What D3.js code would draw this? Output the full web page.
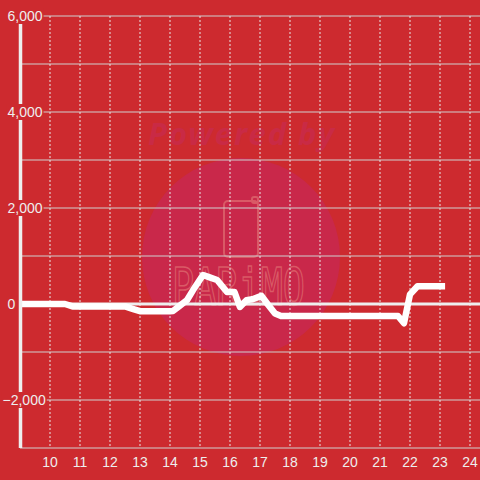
<!DOCTYPE html>
<html>
<head>
<meta charset="utf-8">
<script src="https://cdn.jsdelivr.net/npm/d3@7"></script>
<style>
  body { margin: 0; background: #cd2a2f; }
  svg { display: block; font-family: "Liberation Sans", Arial, sans-serif; }
</style>
</head>
<body>
<div class="chart"></div>
<script>
// hours of day and values
const hours = [9, 10.5, 10.75, 12.5, 12.75, 13, 14, 14.1, 14.3, 14.57, 14.77, 15.1, 15.3, 15.57, 15.9, 16.15, 16.33, 16.55, 16.75, 17.05, 17.25, 17.5, 17.7, 21.6, 21.8, 22.0, 22.25, 23.17];
const values = [0, 0, -50, -50, -100, -150, -150, -146, -50, 83, 290, 604, 560, 500, 250, 250, -60, 80, 100, 170, 0, -200, -250, -250, -400, 200, 370, 370];
const xTicks = [10, 11, 12, 13, 14, 15, 16, 17, 18, 19, 20, 21, 22, 23, 24];
const yTicks = [-2000, 0, 2000, 4000, 6000];
const yGrid = [-3000, -2000, -1000, 0, 1000, 2000, 3000, 4000, 5000, 6000];

const w = 480, h = 480;
const margin = {top: 16, right: 0, bottom: 32, left: 20};

const x = d3.scaleLinear().domain([9, 9 + 460 / 30]).range([margin.left, w]);
const y = d3.scaleLinear().domain([-3000, 6000]).range([h - margin.bottom, margin.top]);

const svg = d3.select(".chart").append("svg")
  .attr("width", w).attr("height", h);

svg.append("rect").attr("width", w).attr("height", h).attr("fill", "#cd2a2f");

// watermark
const wm = svg.append("g");
wm.append("circle").attr("cx", 241).attr("cy", 257).attr("r", 99).attr("fill", "#c9284a");
wm.append("text").attr("x", 241).attr("y", 145).attr("text-anchor", "middle")
  .attr("font-size", 31).attr("font-weight", "bold").attr("font-style", "italic")
  .attr("font-family", "'Noto Sans', sans-serif").attr("textLength", 186)
  .attr("fill", "#c92a45").text("Powered by");
wm.append("rect").attr("x", 224).attr("y", 201).attr("width", 34).attr("height", 56).attr("rx", 4)
  .attr("fill", "none").attr("stroke", "#d95a66").attr("stroke-width", 2);
wm.append("rect").attr("x", 252).attr("y", 197).attr("width", 6).attr("height", 6).attr("rx", 2)
  .attr("fill", "none").attr("stroke", "#d95a66").attr("stroke-width", 2);
wm.append("text").attr("x", 172).attr("y", 305).attr("textLength", 133)
  .attr("lengthAdjust", "spacingAndGlyphs")
  .attr("font-size", 52).attr("font-family", "'DejaVu Sans Mono', monospace")
  .attr("fill", "none").attr("stroke", "#d95a66").attr("stroke-width", 1.5)
  .text("PARiMO");

// horizontal grid
svg.append("g").selectAll("line").data(yGrid).enter().append("line")
  .attr("x1", margin.left).attr("x2", w)
  .attr("y1", d => y(d)).attr("y2", d => y(d))
  .attr("stroke", "#cfcfcf").attr("stroke-width", 1.2);

// vertical dotted grid
svg.append("g").selectAll("line").data(xTicks).enter().append("line")
  .attr("x1", d => x(d)).attr("x2", d => x(d))
  .attr("y1", y(6000)).attr("y2", y(-3000))
  .attr("stroke", "#e8e8e8").attr("stroke-width", 1).attr("stroke-dasharray", "2,2");

// zero line
svg.append("line").attr("x1", margin.left).attr("x2", w)
  .attr("y1", y(0)).attr("y2", y(0))
  .attr("stroke", "#eeeeee").attr("stroke-width", 3);

// data line
const line = d3.line().x((d, i) => x(hours[i])).y(d => y(d));
svg.append("path").datum(values)
  .attr("d", line)
  .attr("fill", "none").attr("stroke", "#ffffff").attr("stroke-width", 6.5)
  .attr("stroke-linejoin", "round");

// y axis line
svg.append("line").attr("x1", 20.5).attr("x2", 20.5)
  .attr("y1", y(6000)).attr("y2", y(-3000))
  .attr("stroke", "#eeeeee").attr("stroke-width", 3.5);

// y labels with background boxes sized to the text
const yl = svg.append("g").selectAll("g").data(yTicks).enter().append("g")
  .attr("transform", d => "translate(0," + y(d) + ")");
yl.append("rect").attr("fill", "#cd2a2f");
const ytx = yl.append("text").attr("x", d => d < 0 ? 2.5 : 7.5).attr("dy", "0.35em")
  .attr("font-size", 14).attr("fill", "#eeeeee")
  .text(d => d3.format(",")(d));
ytx.each(function(d) {
  const len = this.getComputedTextLength();
  const x0 = +d3.select(this).attr("x");
  d3.select(this.parentNode).select("rect")
    .attr("x", x0 - 1).attr("y", -8).attr("width", len + 2).attr("height", 16);
});

// x labels
svg.append("g").selectAll("text").data(xTicks).enter().append("text")
  .attr("x", d => x(d)).attr("y", 462).attr("dy", "0.35em").attr("text-anchor", "middle")
  .attr("font-size", 14).attr("fill", "#eeeeee").text(d => d);
</script>
</body>
</html>
